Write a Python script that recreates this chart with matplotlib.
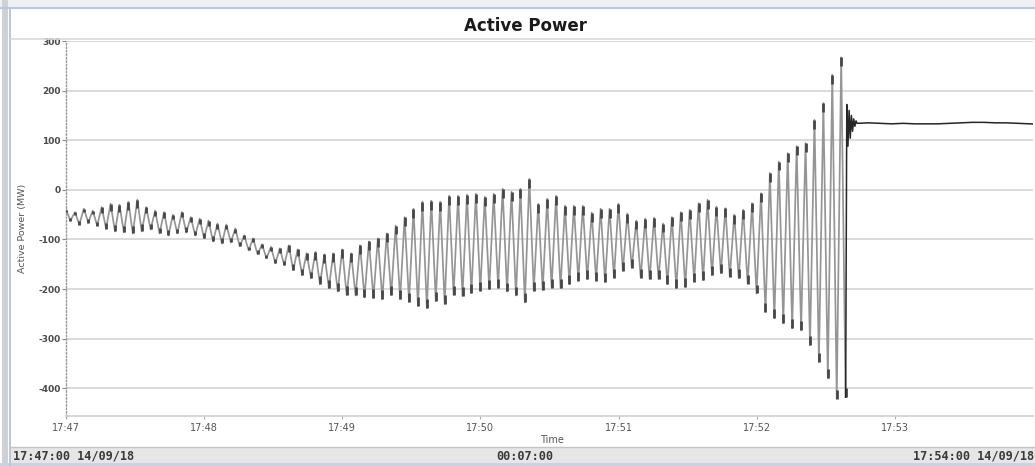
import numpy as np
import matplotlib
matplotlib.use("Agg")
import matplotlib.pyplot as plt
from matplotlib.patches import Rectangle
from matplotlib.lines import Line2D

# Upper and lower swing of every oscillation cycle (MW), from 17:47:00 on
cycle_high = [-40, -45, -38, -42, -35, -28, -30, -24, -20, -35,
              -42, -45, -50, -45, -55, -58, -62, -68, -70, -78,
              -92, -98, -110, -115, -118, -112, -120, -128, -125, -130,
              -128, -120, -128, -112, -104, -98, -88, -72, -55, -38,
              -24, -22, -24, -12, -12, -10, -8, -14, -8, 2,
              -4, 2, 22, -28, -18, -12, -32, -32, -32, -46,
              -38, -38, -28, -48, -62, -58, -56, -68, -55, -45,
              -40, -27, -20, -34, -37, -50, -40, -27, -7, 34,
              57, 74, 88, 94, 141, 175, 232, 267]
cycle_low = [-62, -70, -66, -72, -78, -84, -86, -88, -84, -80,
             -88, -92, -88, -86, -92, -98, -104, -108, -106, -114,
             -122, -130, -138, -148, -152, -162, -172, -178, -190, -198,
             -205, -212, -213, -217, -218, -220, -212, -220, -226, -234,
             -238, -224, -230, -212, -214, -208, -203, -200, -197, -205,
             -213, -227, -203, -202, -197, -198, -190, -183, -180, -183,
             -186, -177, -163, -157, -177, -180, -180, -190, -198, -196,
             -185, -182, -172, -168, -175, -178, -189, -209, -246, -259,
             -269, -279, -283, -313, -347, -380, -421, -418]
cycle_period_s = 3.87

# Ringing onto the new operating point after the breakaway (MW)
ringing_values = [172, 88, 160, 104, 150, 118, 143, 128, 139, 134]
ringing_step_s = 0.5

# Settled output afterwards (MW), one reading every 5 s
settled_values = [135, 134, 133, 134, 133, 133, 133, 134, 135, 136,
                  136, 135, 135, 134, 133, 132, 131]
settled_step_s = 5.0

y_ticks = [300, 200, 100, 0, -100, -200, -300, -400]
x_tick_labels = ["17:47", "17:48", "17:49", "17:50", "17:51", "17:52", "17:53"]
span_s = 420

# oscillating part: high then low of each cycle
hi = np.array(cycle_high, dtype=float)
lo = np.array(cycle_low, dtype=float)
n = len(hi)
t_hi = np.arange(n) * cycle_period_s
t_lo = t_hi + cycle_period_s / 2
t_osc = np.column_stack([t_hi, t_lo]).ravel()
v_osc = np.column_stack([hi, lo]).ravel()

# ringing and settled part
t_ring = t_lo[-1] + ringing_step_s * (1 + np.arange(len(ringing_values)))
t_set = t_ring[-1] + settled_step_s * (1 + np.arange(len(settled_values)))
t_after = np.concatenate([[t_lo[-1]], t_ring, t_set])
v_after = np.concatenate([[lo[-1]], ringing_values, settled_values])

W, H = 1035, 466
fig = plt.figure(figsize=(W / 100, H / 100), dpi=100)
fig.patch.set_facecolor("white")

def fx(px):
    return px / W

def fy(py):
    return 1 - py / H

# window chrome
fig.add_artist(Rectangle((0, fy(7)), 1, fy(0) - fy(7), transform=fig.transFigure,
                         facecolor="#eef0f3", edgecolor="none"))
fig.add_artist(Line2D([0, 1], [fy(7.5), fy(7.5)], transform=fig.transFigure,
                      color="#b9c8dc", lw=1.5))
fig.add_artist(Rectangle((fx(2), 0), fx(6), 1, transform=fig.transFigure,
                         facecolor="#cfd1d4", edgecolor="none"))
fig.add_artist(Line2D([fx(10), fx(10)], [0, fy(7.5)], transform=fig.transFigure,
                      color="#b9c8dc", lw=1.5))
fig.add_artist(Line2D([fx(11), 1], [fy(39), fy(39)], transform=fig.transFigure,
                      color="#d8d8d8", lw=1.2))
# status bar
fig.add_artist(Rectangle((fx(10), fy(463)), 1, fy(447) - fy(463), transform=fig.transFigure,
                         facecolor="#e6e6e6", edgecolor="none"))
fig.add_artist(Line2D([fx(10), 1], [fy(447), fy(447)], transform=fig.transFigure,
                      color="#c4c4c4", lw=1.0))
fig.add_artist(Rectangle((0, 0), 1, fy(463), transform=fig.transFigure,
                         facecolor="#c9d4e3", edgecolor="none"))

status_font = dict(family="DejaVu Sans Mono", fontsize=8.6, fontweight="bold", color="#3a3a3a",
                   va="center")
fig.text(fx(13), fy(456), "17:47:00 14/09/18", ha="left", **status_font)
fig.text(fx(525), fy(456), "00:07:00", ha="center", **status_font)
fig.text(fx(913), fy(456), "17:54:00 14/09/18", ha="left", **status_font)

fig.text(fx(526), fy(26), "Active Power", ha="center", va="center",
         fontsize=12, fontweight="bold", color="#1a1a1a")

ax = fig.add_axes([fx(66), fy(416), fx(1033) - fx(66), fy(41) - fy(416)])
ax.set_xlim(0, span_s)
ax.set_ylim(-456, 300)

for yv in y_ticks:
    ax.axhline(yv, color="#dadada", lw=1.4, zorder=0)

# the swing trace in grey, with darker ink where it turns at each extreme
ax.plot(t_osc, v_osc, color="#959595", lw=1.25, zorder=3)
cap = np.minimum(18, 0.25 * (hi - lo))
ax.vlines(t_hi, hi - cap, hi, color="#474747", lw=2.0, zorder=4)
ax.vlines(t_lo, lo, lo + cap, color="#474747", lw=2.0, zorder=4)
ax.plot(t_after, v_after, color="#262626", lw=1.1, zorder=5)

ax.set_yticks(y_ticks)
ax.set_yticklabels([str(y) for y in y_ticks])
ax.set_xticks(np.arange(len(x_tick_labels)) * 60)
ax.set_xticklabels(x_tick_labels)
ax.tick_params(axis="y", length=3, width=0.8, color="#888888", pad=1,
               labelsize=6.5, labelcolor="#4a4a4a")
ax.tick_params(axis="x", length=2, width=0.8, color="#aaaaaa", pad=3,
               labelsize=7, labelcolor="#555555")
for lab in ax.get_yticklabels():
    lab.set_fontweight("bold")

for side in ["top", "right"]:
    ax.spines[side].set_visible(False)
ax.spines["bottom"].set_color("#cfcfcf")
ax.spines["bottom"].set_linewidth(1.2)
ax.spines["left"].set_color("#9a9a9a")
ax.spines["left"].set_linestyle((0, (1, 1.5)))
ax.spines["left"].set_linewidth(1.0)

ax.set_xlabel("Time", fontsize=7, color="#555555", labelpad=0)
ax.xaxis.set_label_coords((552 - 66) / (1033 - 66), -0.05)
ax.set_ylabel("Active Power (MW)", fontsize=6.8, color="#555555")
ax.yaxis.set_label_coords(-(66 - 27) / (1033 - 66), 0.5)

fig.savefig("out.png", dpi=100)
